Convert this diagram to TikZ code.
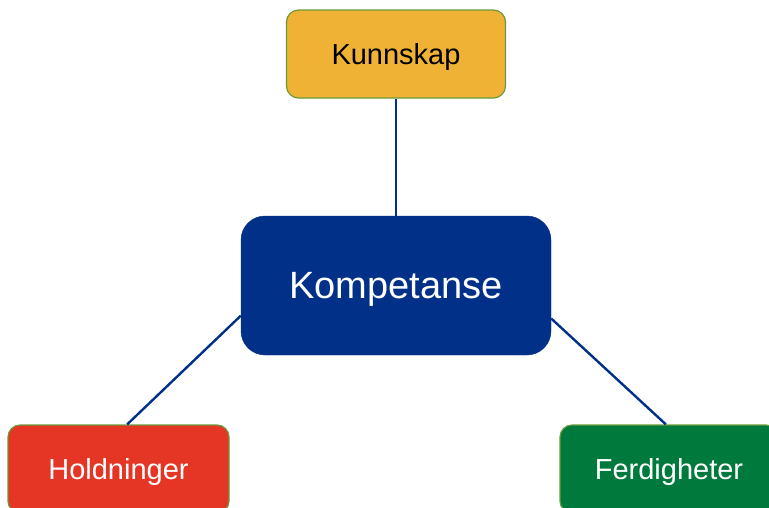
\documentclass[tikz,border=0pt]{standalone}
\usepackage{fontspec}
\setmainfont{Liberation Sans}
\definecolor{kblue}{HTML}{003087}
\definecolor{korange}{HTML}{F0B234}
\definecolor{kred}{HTML}{E53524}
\definecolor{kgreen}{HTML}{007A3C}
\definecolor{kborder}{HTML}{6A9A3A}
\tikzset{
  smallbox/.style={draw=kborder, line width=1.2pt, rounded corners=12pt, inner sep=0pt,
    minimum height=88pt, text depth=0pt, font=\fontsize{29}{31}\selectfont},
  bigbox/.style={draw=kblue, fill=kblue, rounded corners=24pt, inner sep=0pt,
    minimum width=310pt, minimum height=139pt, text depth=0pt, text=white, font=\fontsize{38}{40}\selectfont},
  link/.style={draw=kblue, line width=2.4pt}
}
\begin{document}
\begin{tikzpicture}[x=1pt,y=1pt]
\useasboundingbox (0,0) rectangle (769,-507);
\clip (0,0) rectangle (769,-507);
\node[smallbox, fill=korange, text=black, minimum width=219pt] (kunn) at (396,-54) {Kunnskap};
\node[bigbox] (komp) at (396,-285.5) {Kompetanse};
\node[smallbox, fill=kred, text=white, minimum width=221pt] (hold) at (118.5,-469) {Holdninger};
\node[smallbox, fill=kgreen, text=white, minimum width=218pt] (ferd) at (669,-469) {Ferdigheter};
\draw[link] (kunn.south) -- (komp.north);
\draw[link] (komp.191.8) -- (hold.79);
\draw[link] (komp.348.2) -- (ferd.94);
\end{tikzpicture}
\end{document}
